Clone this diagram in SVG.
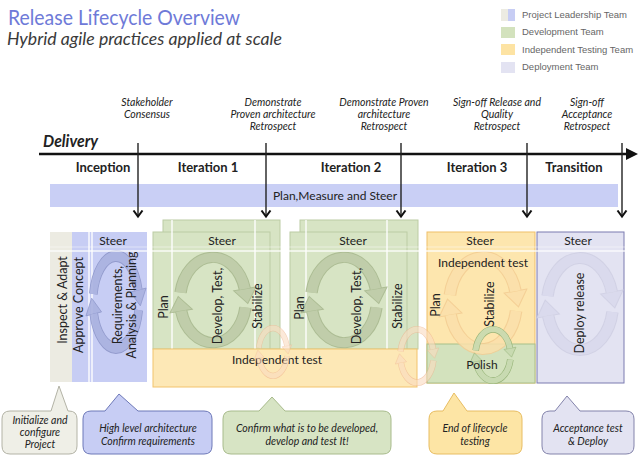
<svg xmlns="http://www.w3.org/2000/svg" width="641" height="463" viewBox="0 0 641 463">
<style>
text{font-family:Lato,"Liberation Sans",Arial,sans-serif;fill:#222}
.leg{font-family:"Liberation Sans",Arial,sans-serif;font-size:9.5px;fill:#666}
.ms{font-style:italic;font-size:10.5px;text-anchor:middle}
.ph{font-weight:bold;font-size:13px;text-anchor:middle}
.lb{font-size:12px;text-anchor:middle}
.rl{font-size:12.5px;text-anchor:middle}
.co{font-style:italic;font-size:10.5px;text-anchor:middle}
.mline{stroke:#222;stroke-width:1.4;fill:none;marker-end:url(#chev)}
.wl{stroke:#fff;stroke-width:1.6;opacity:.85}
.co-o{fill:none;stroke:var(--o);stroke-width:12}
.co-i{fill:none;stroke:var(--f);stroke-width:10}
.ah{fill:var(--f);stroke:var(--o);stroke-width:1}
.callout{stroke-width:1}
</style>
<defs>
<marker id="chev" viewBox="-1 -6 9 12" markerWidth="9" markerHeight="12" refX="6.5" refY="0" orient="auto" markerUnits="userSpaceOnUse">
<path d="M0,-4.5 L6,0 L0,4.5" fill="none" stroke="#111" stroke-width="2"/>
</marker>
<g id="cyc">
<path class="co-o" d="M-31.5,-8 A32,46 0 0 1 30.9,-11.9"/>
<path class="co-o" d="M31.5,8 A32,46 0 0 1 -30.9,11.9"/>
<polygon class="ah" points="41.7,-13.9 20.1,-9.9 33.8,3.8"/>
<polygon class="ah" points="-20.1,9.9 -41.7,13.9 -33.8,-3.8"/>
<path class="co-i" d="M-31.5,-8 A32,46 0 0 1 30.9,-11.9"/>
<path class="co-i" d="M31.5,8 A32,46 0 0 1 -30.9,11.9"/>
</g>
</defs>
<rect width="641" height="463" fill="#fff"/>

<g id="title">
<text x="8" y="25" font-size="21" style="fill:#6e7ad8" textLength="232" lengthAdjust="spacingAndGlyphs">Release Lifecycle Overview</text>
<text x="7" y="45" font-size="17.5" font-style="italic" style="fill:#3a3a3a" textLength="275" lengthAdjust="spacingAndGlyphs">Hybrid agile practices applied at scale</text>
</g>

<g id="legend">
<rect x="501" y="9" width="7" height="12" fill="#ecebe2"/>
<rect x="508" y="9" width="7" height="12" fill="#c7cdf4"/>
<text class="leg" x="522" y="18">Project Leadership Team</text>
<rect x="501" y="27" width="14" height="11" fill="#d3e2bd"/>
<text class="leg" x="522" y="35">Development Team</text>
<rect x="501" y="44" width="14" height="11" fill="#fde3a3"/>
<text class="leg" x="522" y="52.5">Independent Testing Team</text>
<rect x="501" y="62" width="14" height="11" fill="#e3e3f2"/>
<text class="leg" x="522" y="69.5">Deployment Team</text>
</g>

<g id="timeline">
<text x="43" y="147" font-size="17" font-weight="bold" font-style="italic" textLength="55" lengthAdjust="spacingAndGlyphs">Delivery</text>
<line x1="39" y1="154" x2="628" y2="154" stroke="#111" stroke-width="2.5"/>
<polygon points="638,154 626,148 626,160" fill="#111"/>
<text class="ph" x="103" y="172">Inception</text>
<text class="ph" x="208" y="172">Iteration 1</text>
<text class="ph" x="351" y="172">Iteration 2</text>
<text class="ph" x="477" y="172">Iteration 3</text>
<text class="ph" x="574" y="172">Transition</text>
</g>

<g id="plan-measure-steer">
<rect x="50" y="184" width="568" height="23" fill="#c9cff5"/>
<text class="lb" x="335" y="200">Plan,Measure and Steer</text>
</g>

<g id="inception">
<rect x="50" y="232" width="22" height="150" fill="#ecebe2"/>
<rect x="72" y="232" width="75" height="150" fill="#c7cdf4"/>
<line class="wl" x1="89" y1="232" x2="89" y2="382"/>
<line class="wl" x1="92" y1="232" x2="92" y2="382"/>
<use href="#cyc" transform="translate(116,302) scale(0.72,1)" style="--o:#8d96c9;--f:#aab2e0" opacity="0.9"/>
<text class="lb" x="113" y="245">Steer</text>
<text class="rl" transform="translate(63,300) rotate(-90)" dy="0.35em">Inspect &amp; Adapt</text>
<text class="rl" transform="translate(79,305) rotate(-90)" dy="0.35em">Approve Concept</text>
<text class="rl" transform="translate(118,305) rotate(-90)" dy="0.35em">Requirements,</text>
<text class="rl" transform="translate(132,305) rotate(-90)" dy="0.35em">Analysis &amp; Planning</text>
</g>

<g id="iteration1">
<rect x="163" y="220" width="117" height="129" fill="#d7e4c4" stroke="#bccca4" stroke-width="1"/>
<rect x="153" y="232" width="117" height="117" fill="#d7e4c4" stroke="#bccca4" stroke-width="1"/>
<line class="wl" x1="172" y1="220" x2="172" y2="349"/>
<line class="wl" x1="255" y1="220" x2="255" y2="349"/>
<use href="#cyc" transform="translate(213,300) scale(1.03,0.93)" style="--o:#a6b68c;--f:#bccaa6" opacity="0.85"/>
<text class="lb" x="222" y="245">Steer</text>
<text class="rl" transform="translate(164,307) rotate(-90)" dy="0.35em">Plan</text>
<text class="rl" transform="translate(218,306) rotate(-90)" dy="0.35em">Develop, Test,</text>
<text class="rl" transform="translate(258,306) rotate(-90)" dy="0.35em">Stabilize</text>
</g>

<g id="iteration2">
<rect x="300" y="220" width="118" height="129" fill="#d7e4c4" stroke="#bccca4" stroke-width="1"/>
<rect x="290" y="232" width="117" height="117" fill="#d7e4c4" stroke="#bccca4" stroke-width="1"/>
<line class="wl" x1="306" y1="220" x2="306" y2="349"/>
<line class="wl" x1="387" y1="220" x2="387" y2="349"/>
<use href="#cyc" transform="translate(344,300) scale(1.03,0.93)" style="--o:#a6b68c;--f:#bccaa6" opacity="0.85"/>
<text class="lb" x="353" y="245">Steer</text>
<text class="rl" transform="translate(300,308) rotate(-90)" dy="0.35em">Plan</text>
<text class="rl" transform="translate(357,306) rotate(-90)" dy="0.35em">Develop, Test,</text>
<text class="rl" transform="translate(398,306) rotate(-90)" dy="0.35em">Stabilize</text>
</g>

<g id="independent-test">
<rect x="153" y="349" width="264" height="38" fill="#fde8b6" stroke="#f2c36c" stroke-width="1"/>
<text class="lb" x="277" y="364">Independent test</text>
</g>

<g id="iteration3">
<rect x="427" y="232" width="108" height="151" fill="#fde6ae" stroke="#efbf68" stroke-width="1"/>
<rect x="427" y="344" width="108" height="39" fill="#d3e2bd" stroke="#a8bf8a" stroke-width="1"/>
<use href="#cyc" transform="translate(483,303) scale(1.05,1)" style="--o:#f3cc92;--f:#fbe0ab" opacity="0.85"/>
<use href="#cyc" transform="translate(493,355) scale(0.55,0.56)" style="--o:#8fae70;--f:#c7dab0" opacity="0.9"/>
<text class="lb" x="480" y="245">Steer</text>
<text class="lb" x="483" y="267">Independent test</text>
<text class="rl" transform="translate(436,305) rotate(-90)" dy="0.35em">Plan</text>
<text class="rl" transform="translate(490,304) rotate(-90)" dy="0.35em">Stabilize</text>
<text class="lb" x="482" y="369">Polish</text>
</g>

<g id="transition">
<rect x="537" y="232" width="87" height="151" fill="#e3e3f2" stroke="#7b7bb0" stroke-width="1"/>
<use href="#cyc" transform="translate(580,304) scale(1.03,1)" style="--o:#d0d0e4;--f:#dadaed" opacity="0.9"/>
<text class="lb" x="578" y="245">Steer</text>
<text class="rl" transform="translate(580,313) rotate(-90)" dy="0.35em">Deploy release</text>
</g>

<g id="grid-lines">
<line class="wl" x1="50" y1="251" x2="625" y2="251"/>
<line x1="50" y1="247" x2="625" y2="247" stroke="#fff" stroke-width="1" opacity="0.45"/>
</g>

<g id="test-cycles" opacity="0.6">
<use href="#cyc" transform="translate(273,352) scale(0.45,0.52)" style="--o:#efb08a;--f:#fbdcc0"/>
<use href="#cyc" transform="translate(417,356) scale(0.52,0.58)" style="--o:#efb08a;--f:#fbdcc0"/>
</g>

<g id="connectors">
<line class="mline" x1="138" y1="143" x2="138" y2="217"/>
<line class="mline" x1="266" y1="143" x2="266" y2="217"/>
<line class="mline" x1="401" y1="143" x2="401" y2="217"/>
<line class="mline" x1="527" y1="143" x2="527" y2="217"/>
<line class="mline" x1="622" y1="143" x2="622" y2="217"/>
</g>

<g id="milestones">
<text class="ms" x="147" y="106">Stakeholder</text>
<text class="ms" x="147" y="118">Consensus</text>
<text class="ms" x="273" y="106">Demonstrate</text>
<text class="ms" x="273" y="118">Proven architecture</text>
<text class="ms" x="273" y="130">Retrospect</text>
<text class="ms" x="384" y="106">Demonstrate Proven</text>
<text class="ms" x="384" y="118">architecture</text>
<text class="ms" x="384" y="130">Retrospect</text>
<text class="ms" x="497" y="106">Sign-off Release and</text>
<text class="ms" x="497" y="118">Quality</text>
<text class="ms" x="497" y="130">Retrospect</text>
<text class="ms" x="587" y="106">Sign-off</text>
<text class="ms" x="587" y="118">Acceptance</text>
<text class="ms" x="587" y="130">Retrospect</text>
</g>

<g id="callout-initialize">
<path class="callout" d="M10,411 H51 L59,386 L68,411 H69 Q77,411 77,419 V446 Q77,454 69,454 H10 Q2,454 2,446 V419 Q2,411 10,411 Z" fill="#efefe7" stroke="#b3b3a6"/>
<text class="co" x="40" y="424">Initialize and</text>
<text class="co" x="40" y="436">configure</text>
<text class="co" x="40" y="448">Project</text>
</g>
<g id="callout-architecture">
<path class="callout" d="M91,411 H105 L119,394 L138,411 H204 Q212,411 212,419 V446 Q212,454 204,454 H91 Q83,454 83,446 V419 Q83,411 91,411 Z" fill="#c7cdf4" stroke="#6d78b8"/>
<text class="co" x="148" y="432">High level architecture</text>
<text class="co" x="148" y="445">Confirm requirements</text>
</g>
<g id="callout-develop">
<path class="callout" d="M231,411 H259 L272,397 L285,411 H383 Q391,411 391,419 V446 Q391,454 383,454 H231 Q223,454 223,446 V419 Q223,411 231,411 Z" fill="#d7e4c4" stroke="#a8bb8c"/>
<text class="co" x="307" y="432">Confirm what is to be developed,</text>
<text class="co" x="307" y="445">develop and test It!</text>
</g>
<g id="callout-testing">
<path class="callout" d="M437,411 H443 L454,393 L467,411 H514 Q522,411 522,419 V446 Q522,454 514,454 H437 Q429,454 429,446 V419 Q429,411 437,411 Z" fill="#fde5a5" stroke="#e8bd62"/>
<text class="co" x="475" y="432">End of lifecycle</text>
<text class="co" x="475" y="445">testing</text>
</g>
<g id="callout-deploy">
<path class="callout" d="M550,411 H555 L567,396 L580,411 H626 Q634,411 634,419 V446 Q634,454 626,454 H550 Q542,454 542,446 V419 Q542,411 550,411 Z" fill="#e3e3f2" stroke="#8383ab"/>
<text class="co" x="588" y="432">Acceptance test</text>
<text class="co" x="588" y="445">&amp; Deploy</text>
</g>
</svg>
